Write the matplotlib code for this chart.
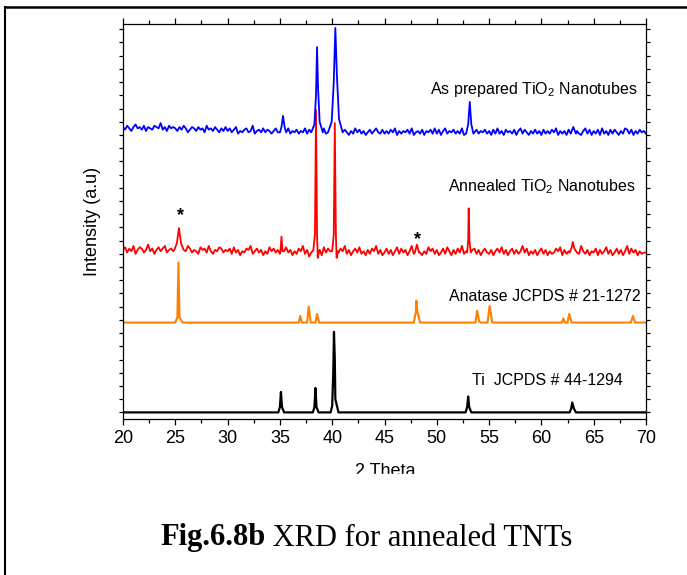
import numpy as np
import matplotlib
matplotlib.use("Agg")
import matplotlib.pyplot as plt
from matplotlib.lines import Line2D
from matplotlib.patches import Rectangle
from matplotlib.ticker import MultipleLocator

plt.rcParams['font.family'] = ['Liberation Sans', 'DejaVu Sans']
plt.rcParams['mathtext.fontset'] = 'custom'
plt.rcParams['mathtext.rm'] = 'Liberation Sans'
plt.rcParams['mathtext.default'] = 'regular'

# scan grid for the measured patterns (0.2 deg step)
two_theta = np.round(np.linspace(20, 70, 251), 2)

# baseline noise, one hex digit per step, added to a base level
blue_base = 205
blue_noise = ("b9ca8bdab9c8ba9cbae9b8cab" "a8b9ca79ba8b9a7c9a8b97a8b"
              "8a79b6879a78c6897a79868a7" "8697a6879687a69786978a697"
              "796a8697586a796857968a769" "68697a5868796a5786958796a"
              "6958a6879686a596857968796" "8596a6859786958a697586968"
              "5968697a5868596978658a695" "8695a6859697586a969586978" "6")
red_base = 114
red_noise = ("9b7a8c69ba79d8a69b8ac79a8" "a79b68ca7986b9a7c8698ba79"
             "8a6b79587a9c68a79586b8a79" "6a8b79586a8c6947a8695b7a8"
             "6937a8c6958a7b68596a8c695" "7a6958b6a7958c69a7586b8a6"
             "957a6b8596a7c68579a6958a7" "6958a7b6958a6968c7a586958"
             "a695867a8b5968a7596c86958" "7a5968b6957a6958c6a795867" "7")

# peaks as (2theta, intensity) outlines
blue_peaks = [
    [(35.0, 212), (35.15, 216), (35.3, 224.5), (35.45, 216), (35.6, 212)],
    [(38.0, 212), (38.3, 218), (38.45, 240), (38.55, 276.5), (38.65, 245), (38.8, 220), (39.1, 212)],
    [(39.6, 212), (39.95, 220), (40.15, 250), (40.3, 291), (40.45, 255), (40.65, 222), (41.0, 212)],
    [(52.8, 211), (53.0, 218), (53.15, 235), (53.3, 218), (53.5, 211)],
    [(62.8, 211), (63.05, 216), (63.3, 211)],
]
red_peaks = [
    [(24.9, 123), (25.15, 128), (25.35, 139.5), (25.55, 128), (25.8, 123)],
    [(35.05, 122), (35.15, 133), (35.25, 122)],
    [(38.2, 123), (38.35, 135), (38.45, 229), (38.55, 135), (38.62, 117), (38.75, 122)],
    [(40.0, 122), (40.15, 135), (40.25, 219), (40.35, 135), (40.42, 117), (40.55, 122)],
    [(47.9, 121), (48.1, 127), (48.3, 121)],
    [(52.9, 121), (53.0, 130), (53.05, 154.5), (53.12, 130), (53.25, 121)],
    [(62.7, 121), (62.9, 125), (63.0, 129), (63.15, 124), (63.4, 121)],
]
anatase_base = 68
anatase_peaks = [
    [(25.0, 68), (25.2, 72), (25.3, 113.5), (25.4, 72), (25.7, 68)],
    [(36.8, 68), (36.95, 73), (37.1, 68)],
    [(37.6, 68), (37.75, 80), (37.95, 68)],
    [(38.4, 68), (38.55, 74.5), (38.75, 68)],
    [(47.8, 68), (48.0, 76), (48.05, 84.5), (48.15, 76), (48.4, 68)],
    [(53.7, 68), (53.85, 77), (54.05, 69), (54.2, 68)],
    [(54.85, 68), (55.05, 80.5), (55.3, 68)],
    [(61.95, 68), (62.1, 71), (62.25, 68)],
    [(62.5, 68), (62.65, 74.5), (62.9, 68)],
    [(68.55, 68), (68.75, 73), (68.95, 68)],
]
ti_base = 0
ti_peaks = [
    [(34.85, 0), (35.0, 4), (35.1, 15.5), (35.2, 4), (35.4, 0)],
    [(38.15, 0), (38.3, 4), (38.4, 18.5), (38.5, 4), (38.7, 0)],
    [(39.85, 0), (40.0, 5), (40.1, 30), (40.17, 61), (40.25, 40), (40.3, 10), (40.6, 0)],
    [(52.75, 0), (52.9, 4), (53.0, 12), (53.1, 4), (53.3, 0)],
    [(62.7, 0), (62.85, 3), (62.95, 7.5), (63.1, 3), (63.3, 0)],
]

labels = ["As prepared TiO$_2$ Nanotubes", "Annealed TiO$_2$ Nanotubes",
          "Anatase JCPDS # 21-1272", "Ti  JCPDS # 44-1294"]
stars = [(25.45, 149), (48.15, 131)]


def build(xs, ys, peaks):
    pts = [(a, b) for a, b in zip(xs, ys)
           if not any(p[0][0] <= a <= p[-1][0] for p in peaks)]
    for p in peaks:
        pts += p
    pts.sort()
    return [p[0] for p in pts], [p[1] for p in pts]


blue_x, blue_y = build(two_theta, [blue_base + int(c, 16) for c in blue_noise], blue_peaks)
red_x, red_y = build(two_theta, [red_base + int(c, 16) for c in red_noise], red_peaks)
ana_x, ana_y = build([20, 70], [anatase_base] * 2, anatase_peaks)
ti_x, ti_y = build([20, 70], [ti_base] * 2, ti_peaks)

W, H = 687, 575
fig = plt.figure(figsize=(W / 100, H / 100), dpi=100)
ax = fig.add_axes([123 / W, 1 - 419 / H, (646 - 123) / W, (419 - 24) / H])

ax.plot(ti_x, ti_y, color='black', lw=1.6)
ax.plot(ana_x, ana_y, color='#FF8000', lw=1.5)
ax.plot(red_x, red_y, color='#FF0000', lw=1.3)
ax.plot(blue_x, blue_y, color='#0000FF', lw=1.3)

ax.set_xlim(20, 70)
ax.set_ylim(-5, 294)
ax.xaxis.set_major_locator(MultipleLocator(5))
ax.xaxis.set_minor_locator(MultipleLocator(2.5))
ax.yaxis.set_major_locator(MultipleLocator(10))
ax.set_yticklabels([])
ax.tick_params(axis='both', which='both', direction='out', top=True, right=True,
               width=0.9, labelsize=13)
ax.tick_params(axis='x', which='major', length=4, pad=4)
ax.tick_params(axis='x', which='minor', length=3)
ax.tick_params(axis='y', which='major', length=3)
for s in ax.spines.values():
    s.set_linewidth(0.9)

ax.set_ylabel("Intensity (a.u)", fontsize=13, labelpad=9)
fig.text(385 / W, 1 - 472 / H, "2 Theta", fontsize=13, ha='center', va='center')
# the original figure is cropped just under the axis title
fig.add_artist(Rectangle((300 / W, 1 - 495 / H), 170 / W, 21 / H,
                         transform=fig.transFigure, color='white', zorder=5))

ax.text(69.2, 241, labels[0], fontsize=11.5, ha='right', va='baseline')
ax.text(69.0, 167, labels[1], fontsize=11.5, ha='right', va='baseline')
ax.text(69.5, 84, labels[2], fontsize=11.5, ha='right', va='baseline')
ax.text(53.4, 21, labels[3], fontsize=11.5, ha='left', va='baseline')
for sx, sy in stars:
    ax.text(sx, sy, "*", fontsize=13, fontweight='bold', ha='center', va='center')

# page frame lines
fig.add_artist(Line2D([5 / W, 1], [1 - 7 / H] * 2, color='black', lw=1.8))
fig.add_artist(Line2D([5 / W] * 2, [0, 1 - 7 / H], color='black', lw=1.5))

# caption: bold figure number followed by plain text
t1 = fig.text(160 / W, 1 - 538 / H, "Fig.6.8b", fontsize=22, fontweight='bold',
              family='Liberation Serif', va='center')
ax.annotate(" XRD for annealed TNTs", xy=(1, 0.5), xycoords=t1, va='center',
            fontsize=22, family='Liberation Serif', annotation_clip=False)

fig.savefig("out.png", dpi=100)
